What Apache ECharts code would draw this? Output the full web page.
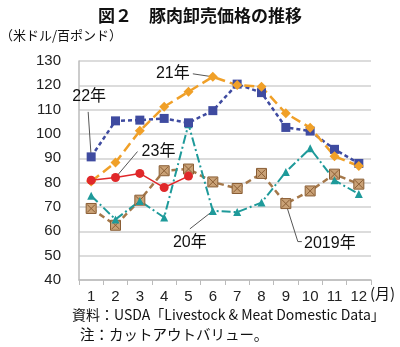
<!DOCTYPE html>
<html><head><meta charset="utf-8">
<script src="https://cdn.jsdelivr.net/npm/echarts@6/dist/echarts.min.js"></script>
<style>html,body{margin:0;padding:0;background:#fff}#c{width:400px;height:347px}</style>
</head><body><div id="c"></div>
<script>
const months = ['1','2','3','4','5','6','7','8','9','10','11','12'];
const yTicks = [40,50,60,70,80,90,100,110,120,130];
const s2019 = [69.4,62.5,72.8,84.9,85.6,80.3,77.6,83.8,71.4,76.6,83.5,79.4];
const s2020 = [74.6,64.9,72.5,65.7,104.0,68.4,67.9,71.8,84.4,94.1,81.0,75.3];
const s2021 = [80.5,88.3,101.3,111.2,117.4,123.5,120.1,119.4,108.5,102.6,90.9,86.8];
const s2022 = [90.6,105.4,105.7,106.4,104.6,109.6,120.5,117.0,102.7,101.2,93.7,87.9];
const s2023 = [81.0,82.1,83.8,78.0,82.7];

const FONT = '"Liberation Sans", Arial, "Noto Sans CJK JP", sans-serif';
const JFONT = '"Noto Sans CJK JP", "Liberation Sans", sans-serif';
const crossSq = 'path://M0,0L10,0L10,10L0,10Z M1,1L9,9 M9,1L1,9';

const chart = echarts.init(document.getElementById('c'), null, {renderer:'canvas'});
chart.setOption({
  animation:false,
  title:{text:'図２　豚肉卸売価格の推移', left:'center', top:2,
    textStyle:{fontFamily:JFONT, fontSize:17, fontWeight:'bold', color:'#111'}},
  grid:{left:79, right:29, top:61, bottom:67},
  xAxis:{type:'category', data:months, boundaryGap:true,
    axisLine:{lineStyle:{color:'#bbb', width:1.5}},
    axisTick:{show:true, length:5, lineStyle:{color:'#bbb'}},
    axisLabel:{fontFamily:FONT, fontSize:15, color:'#222', margin:9}},
  yAxis:{type:'value', min:yTicks[0], max:yTicks[yTicks.length-1], interval:10,
    axisLine:{show:true, lineStyle:{color:'#bbb', width:1.5}},
    axisTick:{show:false},
    splitLine:{lineStyle:{color:'#d0d0d0', width:1.5}},
    axisLabel:{fontFamily:FONT, fontSize:15, color:'#222', margin:18}},
  series:[
    {name:'2019年', type:'line', data:s2019, symbol:crossSq, symbolSize:10,
      lineStyle:{color:'#a5784a', width:2.5, type:[6,4]},
      itemStyle:{color:'#c9a176', borderColor:'#8a5e35', borderWidth:1}},
    {name:'20年', type:'line', data:s2020, symbol:'triangle', symbolSize:8,
      lineStyle:{color:'#1e9a9a', width:2, type:[9,3,2,3]},
      itemStyle:{color:'#1e9a9a'}},
    {name:'22年', type:'line', data:s2022, symbol:'rect', symbolSize:9,
      lineStyle:{color:'#3f4ba0', width:2.5, type:[4,3]},
      itemStyle:{color:'#3f4ba0'}},
    {name:'21年', type:'line', data:s2021, symbol:'diamond', symbolSize:10,
      lineStyle:{color:'#f0a028', width:2.5, type:[10,5]},
      itemStyle:{color:'#f0a028'}},
    {name:'23年', type:'line', data:s2023, symbol:'circle', symbolSize:9,
      lineStyle:{color:'#e0282a', width:1.5},
      itemStyle:{color:'#e0282a'}}
  ]
});

// annotation: [text, series data, month index, leader path offsets, text center offset]
const notes = [
  ['22年', s2022, 0, [[-3,-45]], [-2,-60]],
  ['21年', s2021, 5, [[-20,-3]], [-40,-3]],
  ['23年', s2023, 1, [[22,-26]], [43,-26]],
  ['20年', s2020, 5, [[-23,18]], [-23,32]],
  ['2019年', s2019, 8, [[12,38],[16,38]], [44,40]]
];
const g = [];
notes.forEach(n => {
  const p = chart.convertToPixel({seriesIndex:0}, [n[2], n[1][n[2]]]);
  const pts = [[p[0], p[1]]].concat(n[3].map(o => [p[0]+o[0], p[1]+o[1]]));
  g.push({type:'polyline', shape:{points:pts}, style:{stroke:'#555', lineWidth:1, fill:null}, z:0});
  g.push({type:'text', x:p[0]+n[4][0], y:p[1]+n[4][1],
    style:{text:n[0], font:'16px '+FONT, fill:'#111', align:'center', verticalAlign:'middle'}, z:10});
});
g.push({type:'text', left:0, top:29, style:{text:'（米ドル/百ポンド）', font:'13px '+JFONT, fill:'#111'}});
g.push({type:'text', left:370, top:286, style:{text:'(月)', font:'15px '+JFONT, fill:'#111'}});
g.push({type:'text', left:72, top:308, style:{text:'資料：USDA「Livestock & Meat Domestic Data」', font:'14px '+JFONT, fill:'#111'}});
g.push({type:'text', left:80, top:327, style:{text:'注：カットアウトバリュー。', font:'14.5px '+JFONT, fill:'#111'}});
chart.setOption({graphic:g});
</script></body></html>
